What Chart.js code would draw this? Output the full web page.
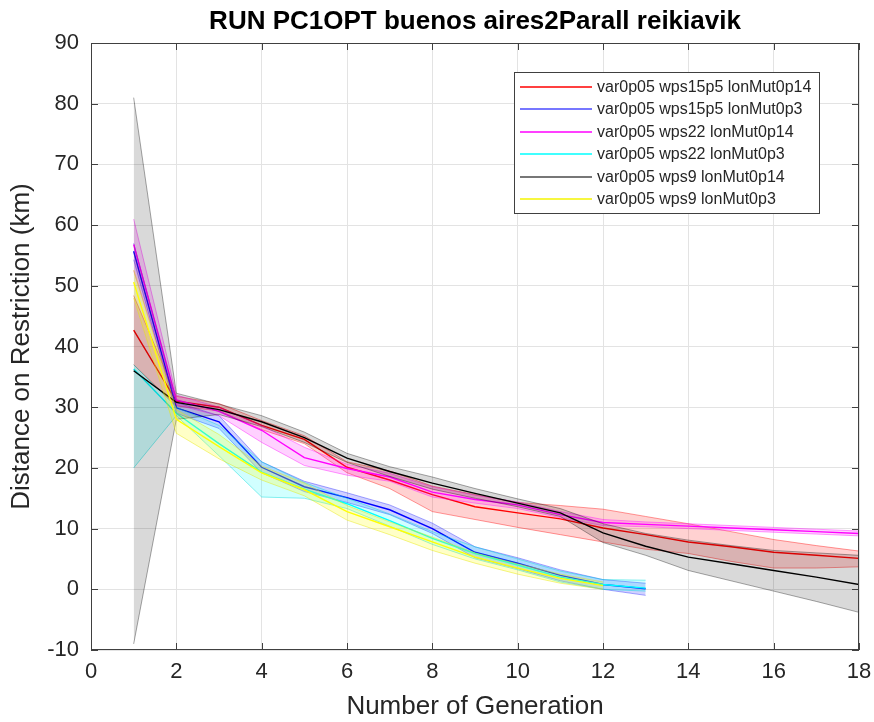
<!DOCTYPE html>
<html>
<head>
  <title>RUN PC1OPT buenos aires2Parall reikiavik</title>
  <style>
    html, body {
      margin: 0;
      padding: 0;
      background: #fff;
    }
    #chartContainer {
      width: 874px;
      height: 722px;
    }
  </style>
</head>
<body>
  <div id="chartContainer">
    <canvas id="distanceChart" width="874" height="722"></canvas>
  </div>

  <script src="https://cdn.jsdelivr.net/npm/chart.js"></script>
  <script>
    // generation index shared by all runs
    const generations = [1, 2, 3, 4, 5, 6, 7, 8, 9, 10, 11, 12, 13, 14, 15, 16, 17, 18];

    const runLabels = [
      'var0p05 wps15p5 lonMut0p14',
      'var0p05 wps15p5 lonMut0p3',
      'var0p05 wps22 lonMut0p14',
      'var0p05 wps22 lonMut0p3',
      'var0p05 wps9 lonMut0p14',
      'var0p05 wps9 lonMut0p3'
    ];

    // wps15p5 lonMut0p14
    const redMean  = [42.7, 31, 30, 27, 24.7, 20.1, 18, 15.6, 13.6, 12.6, 11.6, 10.1, 9, 7.8, 7, 6.1, 5.6, 5.1];
    const redUpper = [48.4, 31.8, 30.6, 27.8, 25.3, 21, 19.5, 17, 15.6, 14.3, 13.8, 13.2, 12, 10.8, 9.5, 8.2, 7.2, 6.3];
    const redLower = [37, 30.2, 29.4, 26.3, 24, 19.2, 16.6, 12.8, 11.5, 10.2, 9, 7.8, 6.6, 5.9, 4.6, 3.5, 3.5, 3.7];

    // wps15p5 lonMut0p3
    const blueMean  = [55.7, 29.9, 27.6, 20.1, 16.9, 15.1, 13.1, 10, 6.1, 4.3, 2.3, 0.8, 0.1];
    const blueUpper = [57, 30.8, 28.6, 21, 17.8, 15.9, 13.9, 10.9, 7, 5.2, 3.2, 1.6, 1];
    const blueLower = [54.3, 29, 26.5, 19.2, 16.1, 14.3, 12.3, 9.2, 5.2, 3.4, 1.4, 0, -1];

    // wps22 lonMut0p14
    const magentaMean  = [56.8, 31.2, 29.3, 26.2, 21.7, 19.9, 18.5, 16, 14.8, 13.9, 12.3, 11, 10.7, 10.4, 10.1, 9.8, 9.5, 9.2];
    const magentaUpper = [61, 32, 30, 27, 23.4, 20.6, 19.1, 16.9, 15.5, 14.4, 12.8, 11.5, 11.1, 10.8, 10.5, 10.2, 9.9, 9.6];
    const magentaLower = [52.5, 30.4, 28.6, 24.2, 20.4, 18.8, 17.8, 15.2, 14.2, 13.3, 11.8, 10.5, 10.3, 10, 9.7, 9.4, 9.1, 8.8];

    // wps22 lonMut0p3
    const cyanMean  = [36.3, 29, 24, 19.3, 16.5, 14.1, 11.3, 8.4, 5.9, 4, 2, 0.8, 0.2];
    const cyanUpper = [37, 30, 27, 21, 17.6, 15, 12.4, 9.5, 7, 5, 3, 1.6, 1.5];
    const cyanLower = [20, 28.6, 22, 15.2, 15, 13.3, 10.4, 7.4, 5, 3.2, 1.2, 0, -0.3];

    // wps9 lonMut0p14
    const blackMean  = [36, 30.8, 29.6, 27.6, 25, 21.6, 19.4, 17.5, 15.8, 14.2, 12.6, 9.3, 7.1, 5.3, 4.2, 3.1, 2, 0.8];
    const blackUpper = [81, 32.3, 30.5, 28.6, 25.9, 22.4, 20.2, 18.5, 16.6, 14.9, 13.3, 10.8, 9.2, 8.1, 7.2, 6.4, 6, 5.6];
    const blackLower = [-9, 28, 28.8, 26.8, 24.2, 20.9, 18.6, 16.5, 15, 13.6, 12, 7.7, 5.6, 3.1, 1.4, -0.3, -2, -3.8];

    // wps9 lonMut0p3
    const yellowMean  = [50.6, 28, 23.5, 19.2, 16.4, 12.8, 10.3, 7.8, 5.3, 3.5, 1.8, 0.6];
    const yellowUpper = [52.6, 29.6, 25.5, 20.3, 17.5, 13.8, 11.1, 8.6, 6, 4.2, 2.5, 1.2];
    const yellowLower = [48, 25.7, 21.5, 18, 15.4, 11.4, 9, 6.4, 4.3, 2.5, 1, 0];

    const xTicks = [0, 2, 4, 6, 8, 10, 12, 14, 16, 18];
    const yTicks = [-10, 0, 10, 20, 30, 40, 50, 60, 70, 80, 90];

    // line colour, band fill, band edge, legend swatch
    const runStyles = [
      { line: '#ff0000', fill: 'rgba(255,0,0,0.18)',   edge: 'rgba(255,0,0,0.4)',    key: '#ff0000' },
      { line: '#0000ff', fill: 'rgba(0,0,255,0.18)',   edge: 'rgba(0,0,255,0.35)',   key: '#4a4aff' },
      { line: '#ff00ff', fill: 'rgba(255,0,255,0.18)', edge: 'rgba(255,0,255,0.4)',  key: '#ff00ff' },
      { line: '#00ffff', fill: 'rgba(0,255,255,0.18)', edge: 'rgba(0,220,220,0.45)', key: '#00ffff' },
      { line: '#000000', fill: 'rgba(0,0,0,0.15)',     edge: 'rgba(0,0,0,0.35)',     key: '#4a4a4a' },
      { line: '#ffff00', fill: 'rgba(255,255,0,0.22)', edge: 'rgba(230,230,0,0.45)', key: '#f5f500' }
    ];

    const runs = [
      [redMean, redUpper, redLower],
      [blueMean, blueUpper, blueLower],
      [magentaMean, magentaUpper, magentaLower],
      [cyanMean, cyanUpper, cyanLower],
      [blackMean, blackUpper, blackLower],
      [yellowMean, yellowUpper, yellowLower]
    ];

    function toPoints(values) {
      return values.map((y, i) => ({ x: generations[i], y: y }));
    }

    // each run: upper edge (filled down to lower edge), lower edge, then the mean line on top
    const datasets = [];
    runs.forEach(([mean, upper, lower], i) => {
      const s = runStyles[i];
      const base = 1000 - i * 10;
      datasets.push({
        label: runLabels[i] + ' upper',
        data: toPoints(upper),
        borderColor: s.edge,
        backgroundColor: s.fill,
        borderWidth: 1,
        pointRadius: 0,
        fill: '+1',
        order: base + 2
      });
      datasets.push({
        label: runLabels[i] + ' lower',
        data: toPoints(lower),
        borderColor: s.edge,
        borderWidth: 1,
        pointRadius: 0,
        fill: false,
        order: base + 1
      });
      datasets.push({
        label: runLabels[i],
        data: toPoints(mean),
        borderColor: s.line,
        borderWidth: 1.4,
        pointRadius: 0,
        fill: false,
        order: base
      });
    });

    const axisColor = '#404040';
    const textColor = '#262626';
    const fontFamily = '"Liberation Sans", Arial, sans-serif';

    // box round the axes, inward tick marks, title and the legend
    const matlabFrame = {
      id: 'matlabFrame',
      afterDatasetsDraw(chart) {
        const { ctx, chartArea: a, scales: { x, y } } = chart;
        ctx.save();
        ctx.strokeStyle = axisColor;
        ctx.lineWidth = 1;
        ctx.strokeRect(a.left + 0.5, a.top + 0.5, a.right - a.left - 1, a.bottom - a.top - 1);
        const len = 7;
        ctx.beginPath();
        xTicks.forEach(v => {
          const px = Math.round(x.getPixelForValue(v)) + 0.5;
          ctx.moveTo(px, a.bottom); ctx.lineTo(px, a.bottom - len);
          ctx.moveTo(px, a.top); ctx.lineTo(px, a.top + len);
        });
        yTicks.forEach(v => {
          const py = Math.round(y.getPixelForValue(v)) + 0.5;
          ctx.moveTo(a.left, py); ctx.lineTo(a.left + len, py);
          ctx.moveTo(a.right, py); ctx.lineTo(a.right - len, py);
        });
        ctx.stroke();
        ctx.restore();
      },
      afterDraw(chart) {
        const { ctx, chartArea: a } = chart;
        ctx.save();
        // title centred over the plot
        ctx.fillStyle = '#000';
        ctx.font = 'bold 26px ' + fontFamily;
        ctx.textAlign = 'center';
        ctx.textBaseline = 'middle';
        ctx.fillText('RUN PC1OPT buenos aires2Parall reikiavik', (a.left + a.right) / 2, 22);

        // legend
        const boxW = 305, boxH = 141;
        const bx = a.right - 40 - boxW, by = a.top + 29;
        ctx.fillStyle = '#fff';
        ctx.fillRect(bx, by, boxW, boxH);
        ctx.strokeStyle = axisColor;
        ctx.lineWidth = 1;
        ctx.strokeRect(bx + 0.5, by + 0.5, boxW, boxH);
        ctx.font = '16px ' + fontFamily;
        ctx.textAlign = 'left';
        runLabels.forEach((label, i) => {
          const ry = Math.round(by + 15 + i * 22.4);
          ctx.strokeStyle = runStyles[i].key;
          ctx.lineWidth = 1.6;
          ctx.beginPath();
          ctx.moveTo(bx + 6, ry);
          ctx.lineTo(bx + 78, ry);
          ctx.stroke();
          ctx.fillStyle = textColor;
          ctx.fillText(label, bx + 83, ry + 1);
        });
        ctx.restore();
      }
    };

    const ctx = document.getElementById('distanceChart').getContext('2d');
    new Chart(ctx, {
      type: 'line',
      data: { datasets: datasets },
      plugins: [matlabFrame],
      options: {
        responsive: false,
        animation: false,
        devicePixelRatio: 1,
        layout: { padding: { top: 43, right: 15, left: 0, bottom: 0 } },
        plugins: {
          legend: { display: false },
          tooltip: { enabled: false },
          filler: { propagate: false }
        },
        elements: { line: { tension: 0 } },
        scales: {
          x: {
            type: 'linear',
            min: 0,
            max: 18,
            afterBuildTicks: s => { s.ticks = xTicks.map(v => ({ value: v })); },
            afterFit: s => { s.height = 72; s.paddingLeft = 0; s.paddingRight = 0; },
            grid: { color: '#e3e3e3', drawTicks: false },
            border: { display: false },
            ticks: {
              padding: 9,
              color: textColor,
              font: { family: fontFamily, size: 22 },
              maxRotation: 0
            },
            title: {
              display: true,
              text: 'Number of Generation',
              color: textColor,
              padding: { top: 0, bottom: 0 },
              font: { family: fontFamily, size: 26 }
            }
          },
          y: {
            type: 'linear',
            min: -10,
            max: 90,
            afterBuildTicks: s => { s.ticks = yTicks.map(v => ({ value: v })); },
            afterFit: s => { s.width = 91; s.paddingTop = 0; s.paddingBottom = 0; },
            grid: { color: '#e3e3e3', drawTicks: false },
            border: { display: false },
            ticks: {
              padding: 12,
              color: textColor,
              font: { family: fontFamily, size: 22 }
            },
            title: {
              display: true,
              text: 'Distance on Restriction (km)',
              color: textColor,
              padding: { top: 6, bottom: 0 },
              font: { family: fontFamily, size: 26 }
            }
          }
        }
      }
    });
  </script>
</body>
</html>
